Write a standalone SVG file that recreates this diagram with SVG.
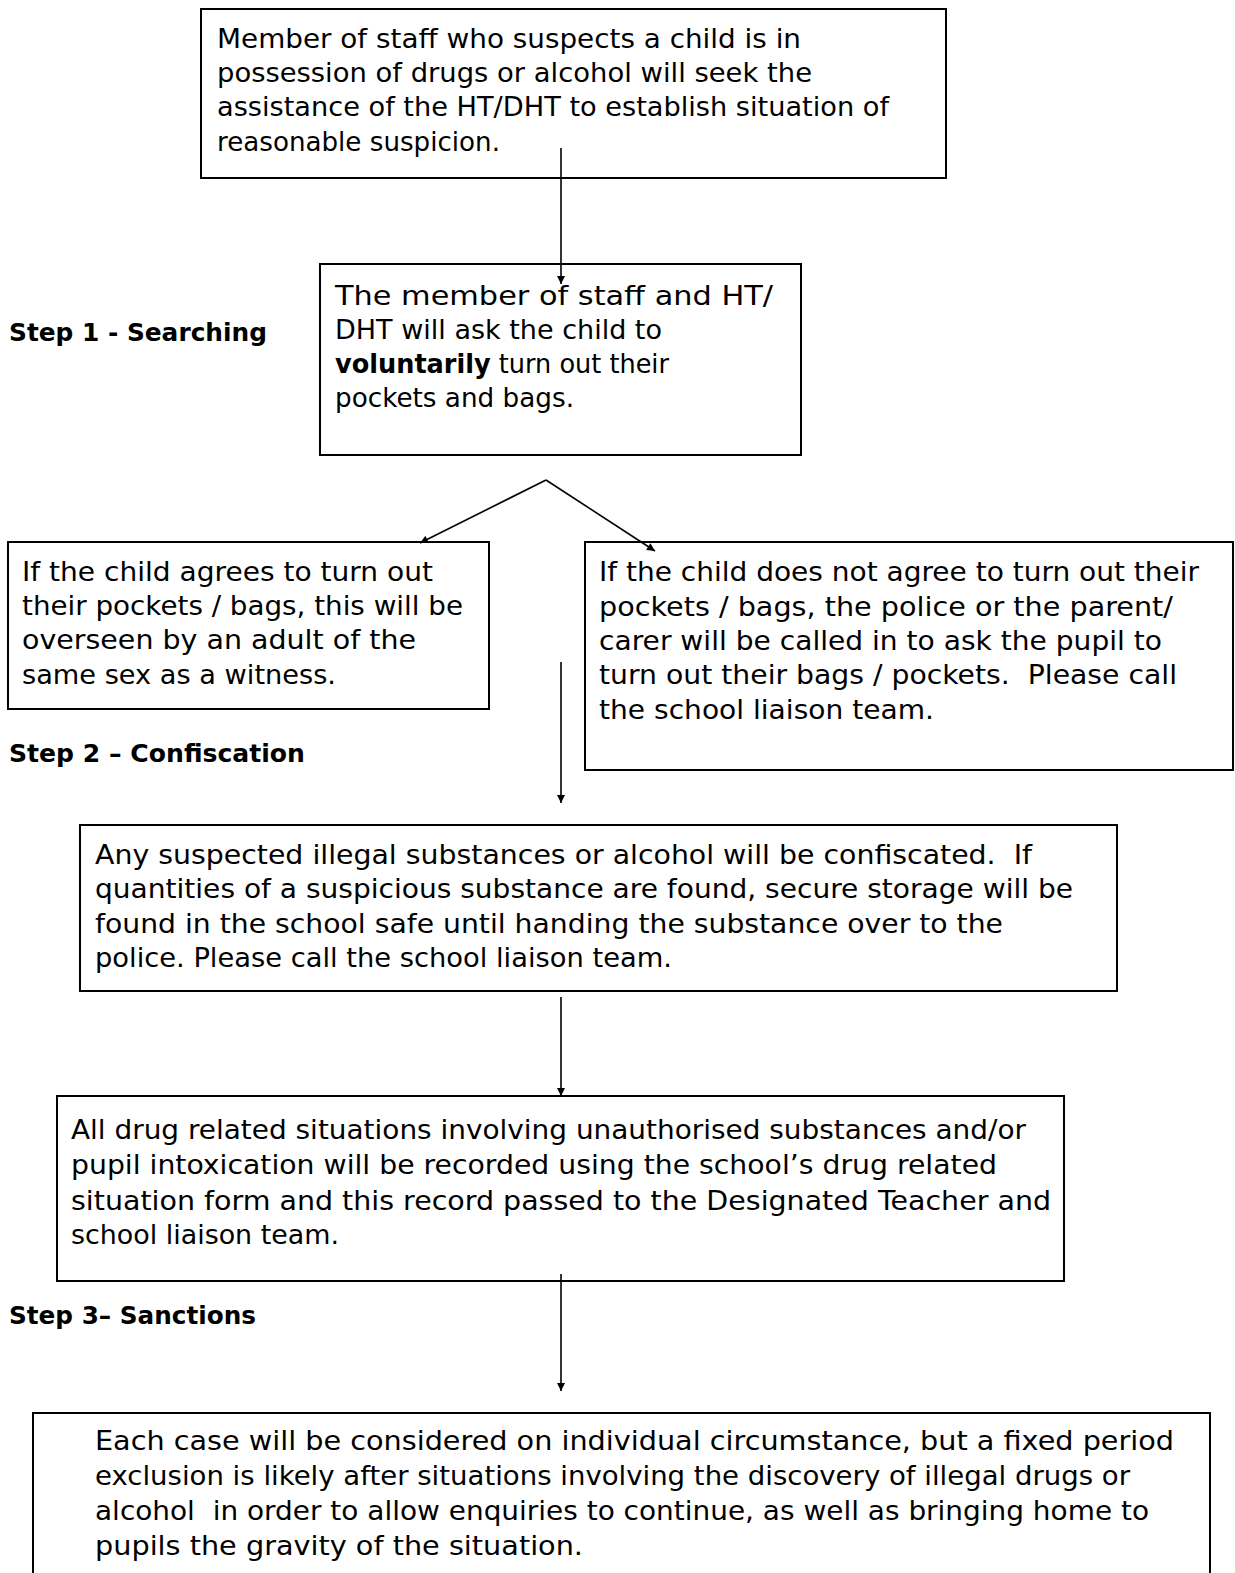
<svg xmlns="http://www.w3.org/2000/svg" width="1235" height="1573" viewBox="0 0 1235 1573">
<style>
rect.box{fill:#fff;stroke:#000;stroke-width:2}
text{font-family:"DejaVu Sans","Liberation Sans",sans-serif;font-size:27px;fill:#000;white-space:pre}
text.step{font-weight:bold;font-size:25px}
.conn line{stroke:#000;stroke-width:1.6;fill:none}
</style>
<defs>
<marker id="ah" viewBox="0 0 10 10" refX="10" refY="5" markerWidth="9" markerHeight="8" markerUnits="userSpaceOnUse" orient="auto">
<path d="M0,0 L10,5 L0,10 z" fill="#000"/>
</marker>
</defs>
<rect width="1235" height="1573" fill="#fff"/>

<g id="node1">
<rect class="box" x="201" y="9" width="745" height="169"/>
<text x="217" y="48" textLength="584" lengthAdjust="spacingAndGlyphs">Member of staff who suspects a child is in</text>
<text x="217" y="82" textLength="595" lengthAdjust="spacingAndGlyphs">possession of drugs or alcohol will seek the</text>
<text x="217" y="116" textLength="672" lengthAdjust="spacingAndGlyphs">assistance of the HT/DHT to establish situation of</text>
<text x="217" y="151" textLength="283" lengthAdjust="spacingAndGlyphs">reasonable suspicion.</text>
</g>

<g id="step1"><text class="step" x="9" y="341" textLength="258" lengthAdjust="spacingAndGlyphs">Step 1 - Searching</text></g>

<g id="node2">
<rect class="box" x="320" y="264" width="481" height="191"/>
<text x="335" y="305" textLength="438" lengthAdjust="spacingAndGlyphs">The member of staff and HT/</text>
<text x="335" y="339" textLength="327" lengthAdjust="spacingAndGlyphs">DHT will ask the child to</text>
<text x="335" y="373" textLength="334" lengthAdjust="spacingAndGlyphs"><tspan font-weight="bold">voluntarily</tspan> turn out their</text>
<text x="335" y="407" textLength="239" lengthAdjust="spacingAndGlyphs">pockets and bags.</text>
</g>

<g id="node3">
<rect class="box" x="8" y="542" width="481" height="167"/>
<text x="22" y="581" textLength="411" lengthAdjust="spacingAndGlyphs">If the child agrees to turn out</text>
<text x="22" y="615" textLength="441" lengthAdjust="spacingAndGlyphs">their pockets / bags, this will be</text>
<text x="22" y="649" textLength="394" lengthAdjust="spacingAndGlyphs">overseen by an adult of the</text>
<text x="22" y="684" textLength="314" lengthAdjust="spacingAndGlyphs">same sex as a witness.</text>
</g>

<g id="node4">
<rect class="box" x="585" y="542" width="648" height="228"/>
<text x="599" y="581" textLength="600" lengthAdjust="spacingAndGlyphs">If the child does not agree to turn out their</text>
<text x="599" y="616" textLength="574" lengthAdjust="spacingAndGlyphs">pockets / bags, the police or the parent/</text>
<text x="599" y="650" textLength="563" lengthAdjust="spacingAndGlyphs">carer will be called in to ask the pupil to</text>
<text x="599" y="684" textLength="578" lengthAdjust="spacingAndGlyphs">turn out their bags / pockets.  Please call</text>
<text x="599" y="719" textLength="335" lengthAdjust="spacingAndGlyphs">the school liaison team.</text>
</g>

<g id="step2"><text class="step" x="9" y="762" textLength="296" lengthAdjust="spacingAndGlyphs">Step 2 – Confiscation</text></g>

<g id="node5">
<rect class="box" x="80" y="825" width="1037" height="166"/>
<text x="95" y="864" textLength="937" lengthAdjust="spacingAndGlyphs">Any suspected illegal substances or alcohol will be confiscated.  If</text>
<text x="95" y="898" textLength="978" lengthAdjust="spacingAndGlyphs">quantities of a suspicious substance are found, secure storage will be</text>
<text x="95" y="933" textLength="908" lengthAdjust="spacingAndGlyphs">found in the school safe until handing the substance over to the</text>
<text x="95" y="967" textLength="577" lengthAdjust="spacingAndGlyphs">police. Please call the school liaison team.</text>
</g>

<g id="node6">
<rect class="box" x="57" y="1096" width="1007" height="185"/>
<text x="71" y="1139" textLength="955" lengthAdjust="spacingAndGlyphs">All drug related situations involving unauthorised substances and/or</text>
<text x="71" y="1174" textLength="926" lengthAdjust="spacingAndGlyphs">pupil intoxication will be recorded using the school’s drug related</text>
<text x="71" y="1210" textLength="980" lengthAdjust="spacingAndGlyphs">situation form and this record passed to the Designated Teacher and</text>
<text x="71" y="1244" textLength="268" lengthAdjust="spacingAndGlyphs">school liaison team.</text>
</g>

<g id="step3"><text class="step" x="9" y="1324" textLength="247" lengthAdjust="spacingAndGlyphs">Step 3– Sanctions</text></g>

<g id="node7">
<rect class="box" x="33" y="1413" width="1177" height="200"/>
<text x="95" y="1450" textLength="1079" lengthAdjust="spacingAndGlyphs">Each case will be considered on individual circumstance, but a fixed period</text>
<text x="95" y="1485" textLength="1035" lengthAdjust="spacingAndGlyphs">exclusion is likely after situations involving the discovery of illegal drugs or</text>
<text x="95" y="1520" textLength="1054" lengthAdjust="spacingAndGlyphs">alcohol  in order to allow enquiries to continue, as well as bringing home to</text>
<text x="95" y="1555" textLength="488" lengthAdjust="spacingAndGlyphs">pupils the gravity of the situation.</text>
</g>

<g id="connectors" class="conn">
<line x1="561" y1="148" x2="561" y2="284" marker-end="url(#ah)"/>
<line x1="546" y1="480" x2="420" y2="543" marker-end="url(#ah)"/>
<line x1="546" y1="480" x2="655" y2="551" marker-end="url(#ah)"/>
<line x1="561" y1="662" x2="561" y2="803" marker-end="url(#ah)"/>
<line x1="561" y1="997" x2="561" y2="1096" marker-end="url(#ah)"/>
<line x1="561" y1="1274" x2="561" y2="1391" marker-end="url(#ah)"/>
</g>
</svg>
